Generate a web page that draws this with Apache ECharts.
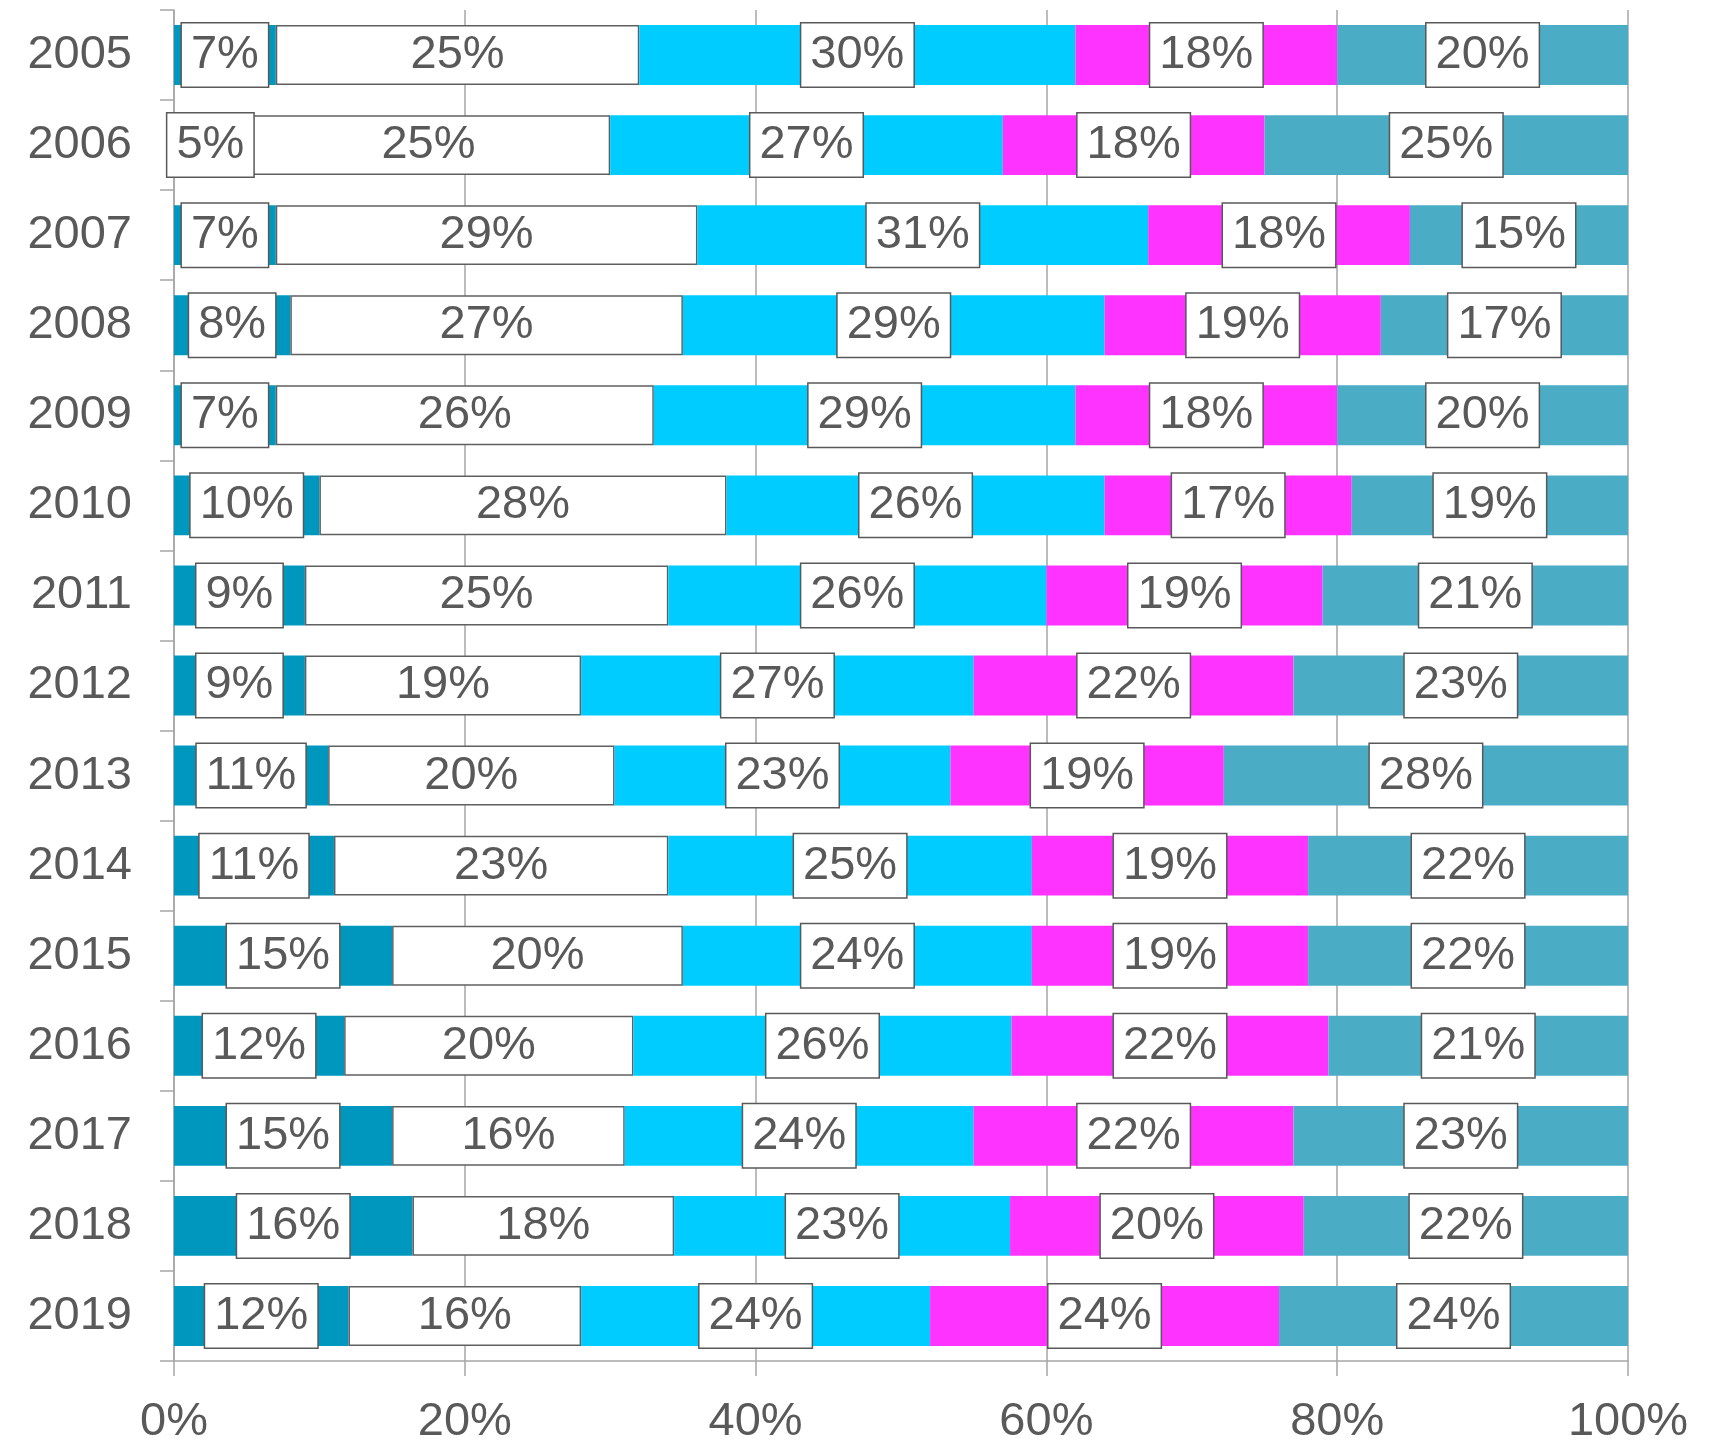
<!DOCTYPE html>
<html>
<head>
<meta charset="utf-8">
<script src="https://cdn.jsdelivr.net/npm/echarts@6/dist/echarts.min.js"></script>
<style>
  html, body { margin: 0; padding: 0; background: #fff; }
  #chart { width: 1726px; height: 1446px; }
</style>
</head>
<body>
<div id="chart"></div>
<script>
// Years, top to bottom
const years = ['2005', '2006', '2007', '2008', '2009', '2010', '2011', '2012',
               '2013', '2014', '2015', '2016', '2017', '2018', '2019'];

// Share of each group per year, in percent
const shareA = [7, 5, 7, 8, 7, 10, 9, 9, 10.6, 11, 15, 11.7, 15, 16.4, 12];
const shareB = [25, 25, 29, 27, 26, 28, 25, 19, 19.7, 23, 20, 19.9, 16, 18.0, 16];
const shareC = [30, 27, 31, 29, 29, 26, 26, 27, 23.1, 25, 24, 26.0, 24, 23.1, 24];
const shareD = [18, 18, 18, 19, 18, 17, 19, 22, 18.8, 19, 19, 21.8, 22, 20.2, 24];
const shareE = [20, 25, 15, 17, 20, 19, 21, 23, 27.8, 22, 22, 20.6, 23, 22.3, 24];

// Axis ticks
const xTicks = [0, 20, 40, 60, 80, 100];

const FONT = '"Liberation Sans", Arial, sans-serif';
const TEXT = '#595959';
const GRID = '#A6A6A6';

const pct = p => Math.round(p.value) + '%';

const boxedLabel = {
  show: true,
  position: 'inside',
  formatter: pct,
  fontFamily: FONT,
  fontSize: 47,
  lineHeight: 47,
  color: TEXT,
  backgroundColor: '#ffffff',
  borderColor: '#595959',
  borderWidth: 1.5,
  padding: [10, 9, 6, 9]
};

const plainLabel = {
  show: true,
  position: 'inside',
  formatter: pct,
  fontFamily: FONT,
  fontSize: 47,
  lineHeight: 47,
  color: TEXT,
  padding: [10, 0, 6, 0]
};

function bar(values, color, label, border) {
  return {
    type: 'bar',
    stack: 'total',
    data: values,
    barCategoryGap: '33.5%',
    itemStyle: border
      ? { color: color, borderColor: '#606060', borderWidth: 1.5 }
      : { color: color },
    label: label,
    emphasis: { disabled: true },
    silent: true
  };
}

const chart = echarts.init(document.getElementById('chart'), null, { renderer: 'canvas' });

chart.setOption({
  animation: false,
  backgroundColor: '#ffffff',
  grid: { left: 174, right: 98, top: 10, bottom: 82, containLabel: false },
  xAxis: {
    type: 'value',
    min: xTicks[0],
    max: xTicks[xTicks.length - 1],
    interval: xTicks[1] - xTicks[0],
    axisLine: { show: true, lineStyle: { color: GRID, width: 1.5 } },
    axisTick: { show: true, length: 15, lineStyle: { color: GRID, width: 1.5 } },
    splitLine: { show: true, lineStyle: { color: GRID, width: 1.5 } },
    axisLabel: {
      formatter: v => v + '%',
      fontFamily: FONT,
      fontSize: 47,
      color: TEXT,
      margin: 38
    }
  },
  yAxis: {
    type: 'category',
    inverse: true,
    data: years,
    axisLine: { show: true, lineStyle: { color: GRID, width: 1.5 } },
    axisTick: { show: true, length: 14, lineStyle: { color: GRID, width: 1.5 } },
    axisLabel: {
      fontFamily: FONT,
      fontSize: 47,
      color: TEXT,
      margin: 42,
      padding: [5, 0, 0, 0]
    }
  },
  series: [
    bar(shareA, '#0097BF', boxedLabel, false),
    bar(shareB, '#ffffff', plainLabel, true),
    bar(shareC, '#00CCFF', boxedLabel, false),
    bar(shareD, '#FF33FF', boxedLabel, false),
    bar(shareE, '#4BACC6', boxedLabel, false)
  ]
});
</script>
</body>
</html>
